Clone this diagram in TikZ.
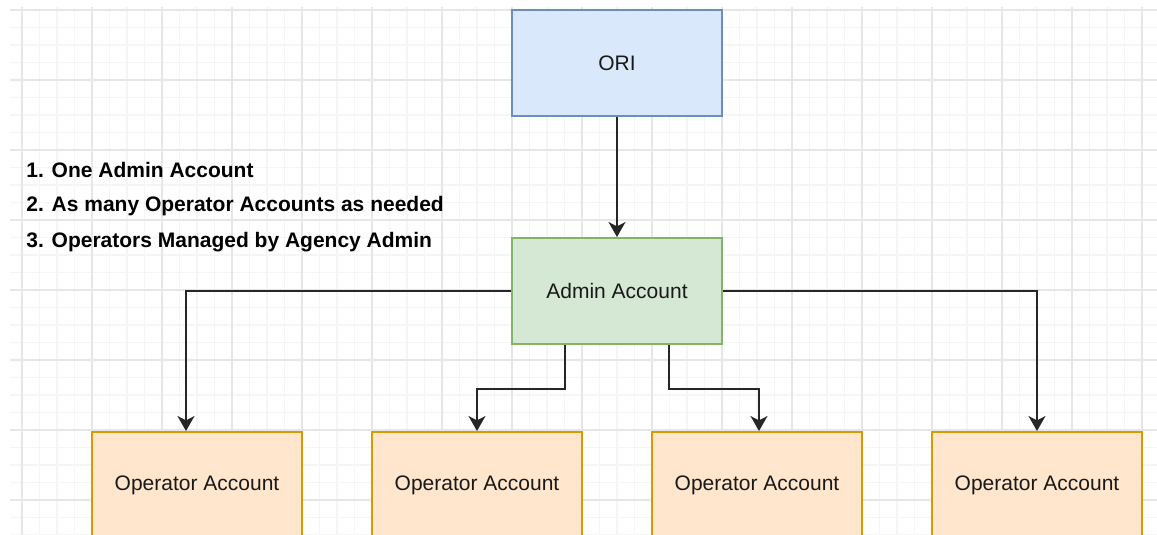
\documentclass[tikz,border=0pt]{standalone}
\usepackage{fontspec}
\setmainfont{Liberation Sans}
\usetikzlibrary{arrows.meta}

\definecolor{gridminor}{HTML}{F5F5F5}
\definecolor{gridmajor}{HTML}{E6E6E6}
\definecolor{orifill}{HTML}{DAE8FC}
\definecolor{oriline}{HTML}{6C8EBF}
\definecolor{adminfill}{HTML}{D5E8D4}
\definecolor{adminline}{HTML}{82B366}
\definecolor{opfill}{HTML}{FFE6CC}
\definecolor{opline}{HTML}{D79B00}

\begin{document}
\begin{tikzpicture}[x=0.5pt, y=-0.5pt,
	box/.style={draw, line width=1pt, minimum width=105pt, minimum height=53pt,
		inner sep=0pt, text=black!90, font=\fontsize{10.5}{12}\selectfont},
	oribox/.style={box, fill=orifill, draw=oriline},
	adminbox/.style={box, fill=adminfill, draw=adminline},
	opbox/.style={box, fill=opfill, draw=opline},
	note/.style={inner sep=0pt, text=black, font=\fontsize{10.5}{12}\selectfont\bfseries},
	link/.style={line width=0.85pt, black!85, -{Stealth[length=7.5pt, width=8.5pt, inset=2.2pt]}}]

\path [use as bounding box] (0,0) rectangle (1157,535);
\clip (0,0) rectangle (1157,535);

% GRID
\foreach \k in {0,...,64}
	\draw [gridminor, line width=0.55pt] ({22+17.5*\k},7) -- ({22+17.5*\k},535);
\foreach \k in {0,...,30}
	\draw [gridminor, line width=0.55pt] (10,{10+17.5*\k}) -- (1157,{10+17.5*\k});
\foreach \k in {0,...,16}
	\draw [gridmajor, line width=0.7pt] ({22+70*\k},7) -- ({22+70*\k},535);
\foreach \k in {0,...,7}
	\draw [gridmajor, line width=0.7pt] (10,{10+70*\k}) -- (1157,{10+70*\k});

% BOXES
\node [oribox] (ori) at (617,63) {ORI};
\node [adminbox] (admin) at (617,291) {Admin Account};
\foreach \x [count=\i] in {197,477,757,1037}
	\node [opbox] (op\i) at (\x,485) {Operator Account};

% NOTES
\foreach \txt [count=\i] in {One Admin Account, As many Operator Accounts as needed, Operators Managed by Agency Admin}
	\node [note, anchor=base west] (note\i) at (26,{142+35*\i}) {\i. \txt};

% LINKS
\draw [link] (ori) -- (admin);
\draw [link] (admin.west) -| ([xshift=-5.5pt]op1.north);
\draw [link] ([xshift=-26pt]admin.south) -- ++(0,44) -| (op2.north);
\draw [link] ([xshift=26pt]admin.south) -- ++(0,44) -| ([xshift=1pt]op3.north);
\draw [link] (admin.east) -| (op4.north);

\end{tikzpicture}
\end{document}
